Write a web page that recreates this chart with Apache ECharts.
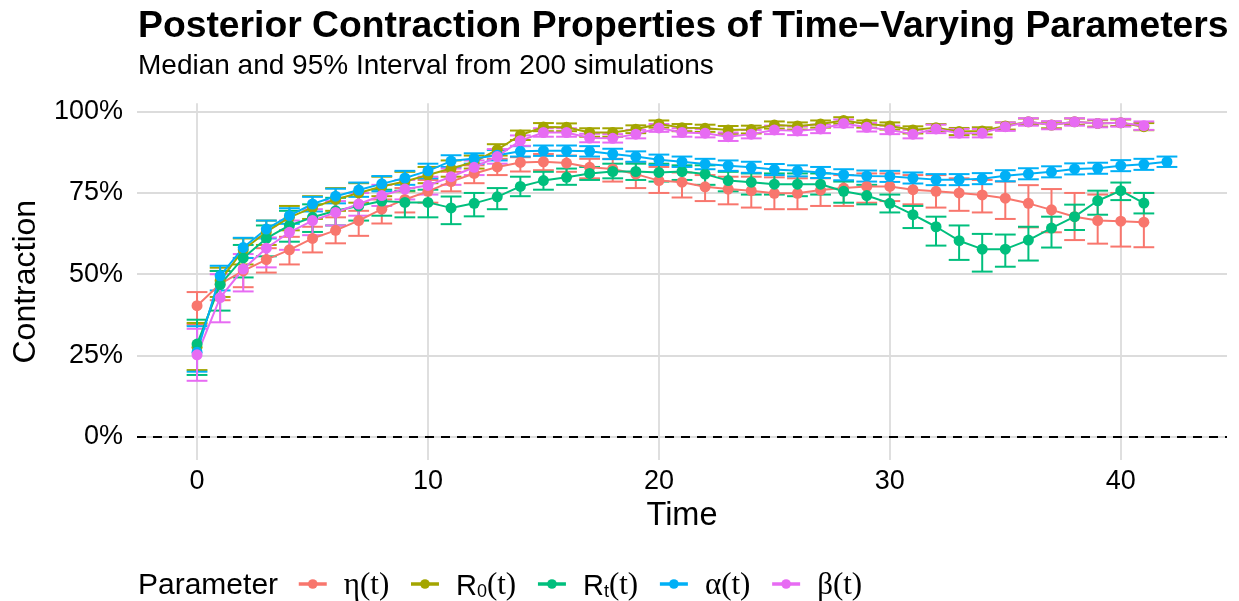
<!DOCTYPE html>
<html>
<head>
<meta charset="utf-8">
<script src="https://cdn.jsdelivr.net/npm/echarts@6/dist/echarts.min.js"></script>
<style>
  html, body { margin: 0; padding: 0; background: #fff; }
  #chart { width: 1239px; height: 601px; }
</style>
</head>
<body>
<div id="chart"></div>
<script>
// time steps
var timeShort = [0,1,2,3,4,5,6,7,8,9,10,11,12,13,14,15,16,17,18,19,20,21,22,23,24,25,26,27,28,29,30,31,32,33,34,35,36,37,38,39,40,41];
var timeLong = timeShort.concat([42]);

var paramNames = ['η(t)', 'R0(t)', 'Rt(t)', 'α(t)', 'β(t)'];
var paramColors = ['#F8766D', '#A3A500', '#00BF7D', '#00B0F6', '#E76BF3'];

// eta
var etaMed = [40.3,47,51,54.5,57.5,61,63.5,66.5,70,73,75.5,78.5,81,83,84.4,84.6,84.2,82.9,82.4,80.8,78.8,78.3,76.9,76.2,75.7,74.9,74.9,75.9,76.5,77,77,76,75.5,75,74.4,73.4,71.8,69.8,67.7,66.5,66.3,66];
var etaLo  = [34.5,42,46,50.5,53,56.7,59.5,61.8,65.6,69,72,75.5,78,80.5,81.6,82,81.5,79.5,78.5,76.5,75,73.6,72.5,71.5,70.5,70,70,71,71,72,72.5,71.5,70.5,69.5,69,67,64.4,62.9,60.5,59.4,58.5,58.3];
var etaHi  = [44.5,51,55,58,61.5,64.6,67.5,69.5,73,76.5,79,81.5,83.5,85.5,86,87,86.5,85.5,85.5,84.5,83,81.3,80.5,80,80,79.8,79.5,79.5,80.5,81,81,80.5,80.5,79.5,79,78.5,77.4,76.2,75,74.5,75,75];

// R0
var r0Med = [27.5,48,57.5,63,67.5,70.5,73,75,77,78.5,80.5,82.5,84.5,88.3,92.8,95.3,95.2,93.6,93.6,94.6,96.2,95.1,94.9,94.4,94.5,95.9,95.6,96.2,97.3,96.2,95.6,94.4,95.1,93.9,94.1,95.6,96.9,95.9,96.9,96.4,96.6,95.4];
var r0Lo  = [20.5,43,53,59,63.5,67,69.5,72,74,75.5,78,80,82.5,86.5,91.3,94,94,92.3,92.3,93.4,95.1,94,93.8,93.2,93.3,94.8,94.5,95.1,96.3,95.1,94.5,93.3,94,92.8,93,94.5,95.9,94.9,95.9,95.4,95.6,94.3];
var r0Hi  = [35,52,61,66.5,71,74,76.5,78,80,81.5,83,85,86.5,90,94.2,96.5,96.4,94.9,94.9,95.8,97.3,96.2,96,95.6,95.7,97,96.7,97.3,98.3,97.3,96.7,95.5,96.2,95,95.2,96.7,97.9,96.9,97.9,97.4,97.6,96.5];

// Rt
var rtMed = [28.5,46.8,55,61,65,67.5,69.5,71,72.5,72.1,72.1,70.4,71.8,73.8,77,78.8,79.8,81,81.6,81.6,81.3,81.6,80.8,78.8,78.3,77.7,77.7,77.7,75.5,74.2,71.8,68.3,64.6,60.3,57.7,57.7,60.5,64.2,67.7,72.6,75.7,71.9];
var rtLo  = [19,38.8,49,55.5,60,63,65,66.5,68,67.5,67.5,65.4,67.8,70,74,76,77.5,79,79.5,79,78.5,79,77.5,75.5,74.5,74.5,74,74.5,72,71.5,69,64.2,58.8,54.4,50.8,52.3,54.2,58.2,63.6,68.3,72.8,68.7];
var rtHi  = [36,51,59,65,69.5,71.5,73.5,75,76,75.7,76,73.9,75,76.5,80,81.5,82.5,83,84,84,84,83.5,83.5,81.5,81,81,81,81,78.5,77.5,74.5,71,67.7,65,62.4,62.2,64.6,67.7,71.4,75.7,78.2,75];

// alpha (one extra step)
var alMed = [26,49.5,58.2,63.9,68,71.6,74,75.9,77.8,79.6,81.8,84.8,85.6,86.6,87.8,88,88,87.8,87,86.2,85.2,84.6,83.9,83.4,82.9,82.2,81.8,81.3,80.6,80.2,80.1,79.6,79.1,79.1,79.4,80.3,80.9,81.5,82.4,82.6,83.4,83.8,84.6];
var alLo  = [20,45,55,61,65.5,69.3,71.8,73.8,75.5,77.5,79.5,83,84,85,86.2,86.4,86.4,86.2,85.4,84.6,83.6,83,82.3,81.8,81.2,80.5,80.1,79.6,78.9,78.5,78.4,77.9,77.4,77.4,77.7,78.6,79.2,79.8,80.7,80.9,81.7,82.1,83];
var alHi  = [34,52.6,61.2,66.5,70.3,73.8,76.3,78.2,80.2,81.8,84,86.6,87.2,88.2,89.4,89.6,89.6,89.4,88.6,87.8,86.8,86.2,85.5,85,84.6,83.9,83.5,83,82.3,81.9,81.8,81.3,80.8,80.8,81.1,82,82.6,83.2,84.1,84.3,85.1,85.5,86.2];

// beta
var beMed = [25.2,42.8,51.6,58,62.9,66.5,69,71.6,74.2,76.2,77.3,80,82.9,86.2,91.1,93.6,93.6,91.9,91.8,93.1,95,93.6,93.4,92.3,93.1,94.4,94.1,94.7,96.4,95.2,94.4,93.1,94.7,93.4,93.4,95.4,96.9,95.9,96.9,96.4,96.6,95.7];
var beLo  = [17.2,35.2,44.7,52.1,57.5,62,65,68,71,73,74.5,77.5,80.5,84,89.5,92.3,92.3,90.6,90.5,91.8,93.8,92.3,92.1,91,91.8,93.1,92.8,93.4,95.2,93.9,93.1,91.8,93.4,92.1,92.1,94.1,95.7,94.6,95.7,95.2,95.4,94.4];
var beHi  = [33.2,50,56.2,61.3,66.5,70,72.5,75,77.5,79,80,82.5,85,88.5,92.7,94.9,94.9,93.2,93.1,94.4,96.2,94.9,94.7,93.6,94.4,95.7,95.4,96,97.6,96.5,95.7,94.4,96,94.7,94.7,96.7,98,97.1,98,97.6,97.8,97];

var xTicks = [0, 10, 20, 30, 40];
var yTicks = [0, 25, 50, 75, 100];

var capHalf = 0.45; // error bar cap half width in time units

var groups = [
  { name: paramNames[0], t: timeShort, med: etaMed, lo: etaLo, hi: etaHi },
  { name: paramNames[1], t: timeShort, med: r0Med, lo: r0Lo, hi: r0Hi },
  { name: paramNames[2], t: timeShort, med: rtMed, lo: rtLo, hi: rtHi },
  { name: paramNames[3], t: timeLong, med: alMed, lo: alLo, hi: alHi },
  { name: paramNames[4], t: timeShort, med: beMed, lo: beLo, hi: beHi }
];

function makeErrRender(color) {
  return function (params, api) {
    var x = api.value(0), lo = api.value(1), hi = api.value(2);
    var pLo = api.coord([x, lo]);
    var pHi = api.coord([x, hi]);
    var hw = api.coord([x + capHalf, lo])[0] - pLo[0];
    var st = { stroke: color, lineWidth: 2, fill: null };
    return {
      type: 'group',
      children: [
        { type: 'line', shape: { x1: pLo[0], y1: pLo[1], x2: pHi[0], y2: pHi[1] }, style: st },
        { type: 'line', shape: { x1: pLo[0] - hw, y1: pLo[1], x2: pLo[0] + hw, y2: pLo[1] }, style: st },
        { type: 'line', shape: { x1: pHi[0] - hw, y1: pHi[1], x2: pHi[0] + hw, y2: pHi[1] }, style: st }
      ]
    };
  };
}

var series = [];

// dashed reference line at 0
series.push({
  type: 'line',
  name: 'zero',
  data: [],
  silent: true,
  markLine: {
    silent: true,
    symbol: ['none', 'none'],
    label: { show: false },
    lineStyle: { color: '#000', type: [9, 7], width: 2 },
    data: [{ yAxis: 0 }]
  }
});

groups.forEach(function (g, i) {
  series.push({
    type: 'custom',
    name: 'err-' + i,
    renderItem: makeErrRender(paramColors[i]),
    data: g.t.map(function (t, k) { return [t, g.lo[k], g.hi[k]]; }),
    encode: { x: 0, y: [1, 2] },
    silent: true
  });
});

groups.forEach(function (g, i) {
  series.push({
    type: 'line',
    name: g.name,
    data: g.t.map(function (t, k) { return [t, g.med[k]]; }),
    symbol: 'circle',
    symbolSize: 11,
    showSymbol: true,
    showAllSymbol: true,
    itemStyle: { color: paramColors[i] },
    lineStyle: { color: paramColors[i], width: 2 },
    emphasis: { disabled: true },
    silent: true
  });
});

var chart = echarts.init(document.getElementById('chart'));
chart.setOption({
  animation: false,
  backgroundColor: '#fff',
  textStyle: { fontFamily: 'Liberation Sans' },
  title: [
    {
      text: 'Posterior Contraction Properties of Time−Varying Parameters',
      left: 133, top: 3,
      textStyle: { fontSize: 37.3, fontWeight: 'bold', color: '#000', fontFamily: 'Liberation Sans' }
    },
    {
      text: 'Median and 95% Interval from 200 simulations',
      left: 133, top: 47,
      textStyle: { fontSize: 28, fontWeight: 'normal', color: '#000', fontFamily: 'Liberation Sans' }
    },
    {
      text: 'Parameter',
      left: 133, top: 566,
      textStyle: { fontSize: 30, fontWeight: 'normal', color: '#000', fontFamily: 'Liberation Sans' }
    }
  ],
  legend: {
    data: paramNames,
    left: 292, top: 565,
    itemWidth: 28, itemHeight: 12, itemGap: 20,
    selectedMode: false,
    lineStyle: { width: 3.5 },
    formatter: function (name) {
      if (name === 'R0(t)') return '{s|R}{sub|0}{f|(t)}';
      if (name === 'Rt(t)') return '{s|R}{sub|t}{f|(t)}';
      return '{f|' + name + '}';
    },
    textStyle: {
      color: '#000', padding: [0, 0, 0, 12],
      rich: {
        s: { fontFamily: 'Liberation Sans', fontSize: 29, color: '#000', verticalAlign: 'bottom', lineHeight: 34 },
        f: { fontFamily: 'Liberation Serif', fontSize: 31, color: '#000', verticalAlign: 'bottom', lineHeight: 34 },
        sub: { fontFamily: 'Liberation Sans', fontSize: 18, color: '#000', verticalAlign: 'bottom', lineHeight: 29 }
      }
    }
  },
  grid: { left: 137, right: 12, top: 103.25, bottom: 140.9 },
  xAxis: {
    type: 'value',
    min: -2.6, max: 44.6,
    name: 'Time',
    nameLocation: 'middle',
    nameGap: 39,
    nameTextStyle: { fontSize: 32.5, color: '#000' },
    axisLine: { show: false },
    axisTick: { show: false, customValues: xTicks },
    axisLabel: { customValues: xTicks, fontSize: 27, color: '#000', margin: 8 },
    splitLine: { show: true, lineStyle: { color: '#dcdcdc', width: 1.8 } }
  },
  yAxis: {
    type: 'value',
    min: -7.2, max: 102.6,
    name: 'Contraction',
    nameLocation: 'middle',
    nameGap: 95,
    nameRotate: 90,
    nameTextStyle: { fontSize: 32, color: '#000' },
    axisLine: { show: false },
    axisTick: { show: false, customValues: yTicks },
    axisLabel: {
      customValues: yTicks, fontSize: 27, color: '#000', margin: 14,
      formatter: function (v) { return v + '%'; }
    },
    splitLine: { show: true, lineStyle: { color: '#dcdcdc', width: 1.8 } }
  },
  series: series
});
</script>
</body>
</html>
